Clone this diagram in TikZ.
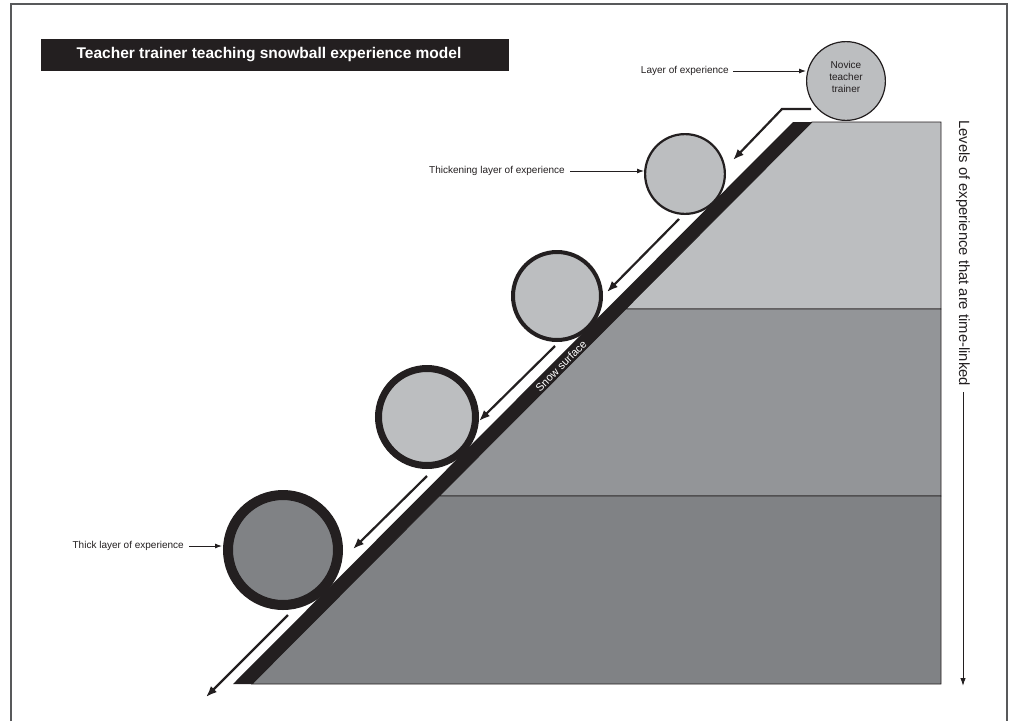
\documentclass[tikz,border=0pt]{standalone}
\usepackage{fontspec}
\setmainfont{Liberation Sans}
\usetikzlibrary{arrows.meta}
\definecolor{lightg}{HTML}{BCBEC0}
\definecolor{midg}{HTML}{939598}
\definecolor{darkg}{HTML}{808285}
\definecolor{ink}{HTML}{231F20}
\definecolor{framec}{HTML}{58595B}
\begin{document}
\begin{tikzpicture}[x=1pt,y=-1pt,
  lbl/.style={font=\fontsize{10}{12}\selectfont, text=ink, inner sep=0pt},
  lblarrow/.style={draw=ink, line width=0.9pt, -{Latex[length=7pt,width=5pt]}},
  slopearrow/.style={draw=ink, line width=2.2pt, -{Latex[length=11pt,width=8.5pt]}},
  layer/.style={draw=ink, line width=0.8pt},
  ball/.style={circle, draw=ink, fill=lightg, inner sep=0pt}
]
\useasboundingbox (0,0) rectangle (1013,721);
\fill[white] (0,0) rectangle (1013,721);
% frame
\draw[framec, line width=1.2pt] (11,721) -- (11,4) -- (1007,4) -- (1007,721);
% title
\node[fill=ink, minimum width=468pt, minimum height=32pt, inner sep=0pt] (titlebox) at (275,55) {};
\node[text=white, font=\bfseries\fontsize{15.5}{18}\selectfont, inner sep=0pt] (title) at (269,55) {Teacher trainer teaching snowball experience model};
% layers
\path[layer, fill=lightg] (812,122) -- (941,122) -- (941,309) -- (625.7,309) -- cycle;
\path[layer, fill=midg] (625.7,309) -- (941,309) -- (941,496) -- (439.3,496) -- cycle;
\path[layer, fill=darkg] (439.3,496) -- (941,496) -- (941,684) -- (252,684) -- cycle;
\fill[ink] (793,122) -- (812,122) -- (252,684) -- (233,684) -- cycle;
\node[rotate=45, text=white, font=\fontsize{11}{13}\selectfont, inner sep=0pt] (snow) at (561,366) {Snow surface};
% balls
\node[ball, line width=1.2pt, minimum size=78.8pt] (b1) at (846,81) {};
\node[lbl, align=center] (b1t) at (846,77) {Novice\\teacher\\trainer};
\node[ball, line width=2.2pt, minimum size=79.8pt] (b2) at (685,174) {};
\node[ball, line width=4pt, minimum size=88pt] (b3) at (557,296) {};
\node[ball, line width=7pt, minimum size=97pt] (b4) at (427,417) {};
\node[ball, fill=darkg, line width=10pt, minimum size=110pt] (b5) at (283,550) {};
% labels
\node[lbl, anchor=east] (l1) at (729,71) {Layer of experience};
\draw[lblarrow] ([xshift=4pt]l1.east) -- (l1.east -| b1.west);
\node[lbl, anchor=east] (l2) at (565,171) {Thickening layer of experience};
\draw[lblarrow] ([xshift=5pt]l2.east) -- (l2.east -| b2.west);
\node[lbl, anchor=east] (l5) at (184,546) {Thick layer of experience};
\draw[lblarrow] ([xshift=5pt]l5.east) -- ([xshift=-1pt]l5.east -| b5.west);
% slope arrows
\coordinate (a1s) at (811,109);
\coordinate (a1k) at (782,109);
\coordinate (a1e) at (733,160);
\coordinate (a2s) at (679,219);
\coordinate (a2e) at (607,292);
\coordinate (a3s) at (555,346);
\coordinate (a3e) at (479,421);
\coordinate (a4s) at (427,476);
\coordinate (a4e) at (353,549);
\coordinate (a5s) at (288,615);
\coordinate (a5e) at (206,697);
\draw[slopearrow] (a1s) -- (a1k) -- (a1e);
\draw[slopearrow] (a2s) -- (a2e);
\draw[slopearrow] (a3s) -- (a3e);
\draw[slopearrow] (a4s) -- (a4e);
\draw[slopearrow] (a5s) -- (a5e);
% vertical label
\node[rotate=-90, anchor=west, font=\fontsize{14.8}{17}\selectfont, text=ink, inner sep=0pt] (levels) at (963,120) {Levels of experience that are time-linked};
\coordinate (levelsEnd) at (963,686);
\draw[draw=ink, line width=1pt, -{Latex[length=8pt,width=5.5pt]}] ([yshift=-6pt]levels.east) -- (levelsEnd);
\end{tikzpicture}
\end{document}
